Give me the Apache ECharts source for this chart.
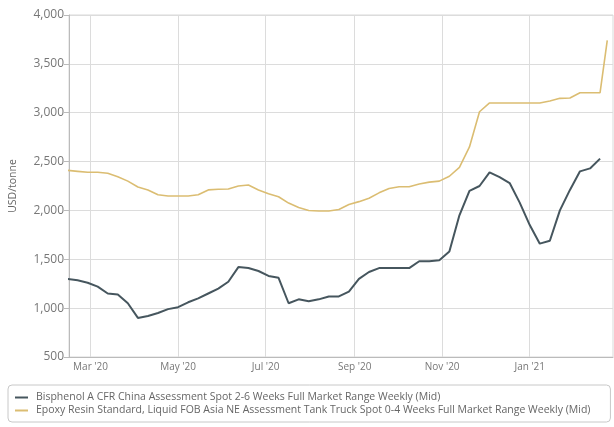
<!DOCTYPE html>
<html>
<head>
<meta charset="utf-8">
<script src="https://cdn.jsdelivr.net/npm/echarts@6/dist/echarts.min.js"></script>
<style>
  html, body { margin: 0; padding: 0; background: #fff; }
  #chart { width: 614px; height: 427px; }
</style>
</head>
<body>
<div id="chart"></div>
<script>
// weekly assessment dates
const weeks = [
  '2020-02-14', '2020-02-21', '2020-02-28', '2020-03-06', '2020-03-13', '2020-03-20', '2020-03-27',
  '2020-04-03', '2020-04-10', '2020-04-17', '2020-04-24', '2020-05-01', '2020-05-08', '2020-05-15',
  '2020-05-22', '2020-05-29', '2020-06-05', '2020-06-12', '2020-06-19', '2020-06-26', '2020-07-03',
  '2020-07-10', '2020-07-17', '2020-07-24', '2020-07-31', '2020-08-07', '2020-08-14', '2020-08-21',
  '2020-08-28', '2020-09-04', '2020-09-11', '2020-09-18', '2020-09-25', '2020-10-02', '2020-10-09',
  '2020-10-16', '2020-10-23', '2020-10-30', '2020-11-06', '2020-11-13', '2020-11-20', '2020-11-27',
  '2020-12-04', '2020-12-11', '2020-12-18', '2020-12-25', '2021-01-01', '2021-01-08', '2021-01-15',
  '2021-01-22', '2021-01-29', '2021-02-05', '2021-02-12', '2021-02-19'
];
const epoxyExtraWeek = '2021-02-24';

const bisphenol = [
  1300, 1285, 1260, 1220, 1150, 1140, 1050, 900, 920, 950, 990, 1010, 1060, 1100,
  1150, 1200, 1270, 1420, 1410, 1380, 1330, 1310, 1050, 1090, 1070, 1090, 1120, 1120,
  1170, 1300, 1370, 1410, 1410, 1410, 1410, 1480, 1480, 1490, 1580, 1950, 2200, 2250,
  2390, 2340, 2280, 2080, 1850, 1660, 1690, 2000, 2210, 2400, 2430, 2530
];
const epoxy = [
  2410, 2400, 2390, 2390, 2380, 2345, 2300, 2240, 2210, 2160, 2148, 2148, 2148, 2160,
  2210, 2216, 2220, 2250, 2260, 2210, 2170, 2140, 2075, 2030, 2000, 1994, 1994, 2010,
  2060, 2090, 2125, 2180, 2225, 2243, 2243, 2270, 2290, 2300, 2350, 2440, 2650, 3010,
  3100, 3100, 3100, 3100, 3100, 3100, 3120, 3147, 3150, 3205, 3205, 3205, 3740
];

const monthTicks = ['2020-03-01', '2020-05-01', '2020-07-01', '2020-09-01', '2020-11-01', '2021-01-01'];
const monthLabels = ["Mar '20", "May '20", "Jul '20", "Sep '20", "Nov '20", "Jan '21"];

const seriesNames = [
  'Bisphenol A CFR China Assessment Spot 2-6 Weeks Full Market Range Weekly (Mid)',
  'Epoxy Resin Standard, Liquid FOB Asia NE Assessment Tank Truck Spot 0-4 Weeks Full Market Range Weekly (Mid)'
];

const ts = s => new Date(s + 'T00:00:00Z').getTime();
const tickTimes = monthTicks.map(ts);
const epoxyWeeks = weeks.concat([epoxyExtraWeek]);

const chart = echarts.init(document.getElementById('chart'));
const option = {
  animation: false,
  textStyle: { fontFamily: 'Open Sans' },
  grid: { left: 66, right: 1, top: 15, bottom: 70, show: true, borderColor: '#d9d9d9', borderWidth: 1 },
  xAxis: {
    type: 'value',
    min: ts('2020-02-15'),
    max: ts('2021-02-28'),
    axisLine: { lineStyle: { color: '#bbb' } },
    axisTick: { show: false, customValues: tickTimes },
    splitLine: { show: true, lineStyle: { color: '#dcdcdc' } },
    axisLabel: {
      customValues: tickTimes,
      color: '#777',
      fontSize: 10,
      margin: 5,
      formatter: v => {
        const i = tickTimes.indexOf(v);
        return i >= 0 ? monthLabels[i] : '';
      }
    }
  },
  yAxis: {
    type: 'value',
    min: 500,
    max: 4000,
    interval: 500,
    name: 'USD/tonne',
    nameLocation: 'middle',
    nameGap: 50,
    nameTextStyle: { color: '#666', fontSize: 10.5 },
    axisLine: { show: true, lineStyle: { color: '#bbb' } },
    splitLine: { lineStyle: { color: '#dcdcdc' } },
    axisLabel: {
      color: '#777',
      fontSize: 12,
      margin: 5,
      formatter: v => v.toLocaleString('en-US')
    }
  },
  legend: {
    orient: 'vertical',
    left: 8,
    top: 385,
    padding: [7, 20, 6, 7],
    itemGap: 2,
    itemWidth: 13,
    itemHeight: 2,
    icon: 'rect',
    borderColor: '#c8c8c8',
    borderWidth: 1,
    borderRadius: 4,
    textStyle: { color: '#666', fontSize: 10.5, padding: [0, 0, 0, 3] },
    data: seriesNames
  },
  series: [
    {
      name: seriesNames[0],
      type: 'line',
      showSymbol: false,
      color: '#46565e',
      lineStyle: { width: 2 },
      data: weeks.map((d, i) => [ts(d), bisphenol[i]])
    },
    {
      name: seriesNames[1],
      type: 'line',
      showSymbol: false,
      color: '#dbbd72',
      lineStyle: { width: 1.6 },
      data: epoxyWeeks.map((d, i) => [ts(d), epoxy[i]])
    }
  ]
};
chart.setOption(option);
</script>
</body>
</html>
